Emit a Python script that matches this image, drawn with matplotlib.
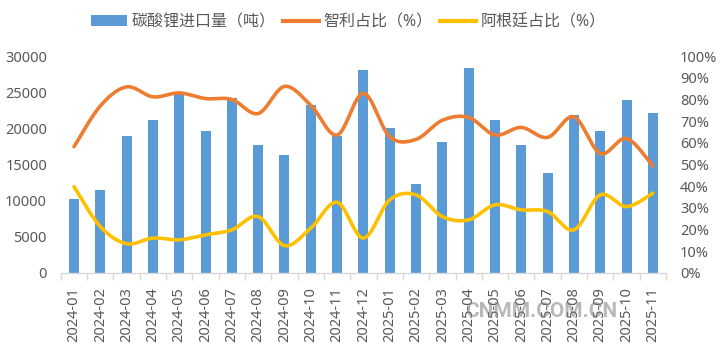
import numpy as np
import matplotlib
matplotlib.use("Agg")
import matplotlib.pyplot as plt
from matplotlib.patches import Patch
from matplotlib.lines import Line2D

plt.rcParams['font.family'] = ['Noto Sans', 'Noto Sans CJK SC', 'DejaVu Sans']

months = ["2024-01", "2024-02", "2024-03", "2024-04", "2024-05", "2024-06",
          "2024-07", "2024-08", "2024-09", "2024-10", "2024-11", "2024-12",
          "2025-01", "2025-02", "2025-03", "2025-04", "2025-05", "2025-06",
          "2025-07", "2025-08", "2025-09", "2025-10", "2025-11"]
imports_t = [10300, 11500, 19000, 21200, 24800, 19600, 24200, 17700, 16300, 23200,
             19000, 28100, 20100, 12300, 18100, 28400, 21200, 17700, 13800, 21800,
             19700, 23900, 22100]
chile_pct = [58.2, 77.0, 85.8, 81.2, 83.0, 80.4, 80.0, 73.5, 86.0, 77.3, 63.6, 82.8,
             62.8, 61.6, 70.4, 71.7, 63.6, 67.1, 62.5, 72.0, 55.1, 62.0, 49.3]
argentina_pct = [39.8, 21.4, 13.5, 16.1, 15.3, 17.6, 19.9, 26.0, 12.6, 20.7, 32.6, 16.1,
                 33.7, 36.0, 26.0, 24.5, 31.4, 29.1, 28.3, 19.9, 36.0, 30.6, 36.8]
legend_labels = ["碳酸锂进口量（吨）", "智利占比（%）", "阿根廷占比（%）"]

BLUE = "#5B9BD5"
ORANGE = "#ED7D31"
YELLOW = "#FFC000"
GRAY = "#595959"
AXIS = "#D9D9D9"


def smooth(x, y, n=30):
    """Catmull-Rom style smoothing (like Excel smoothed lines) for drawing."""
    x = np.asarray(x, float)
    y = np.asarray(y, float)
    px = np.concatenate([[x[0]], x, [x[-1]]])
    py = np.concatenate([[y[0]], y, [y[-1]]])
    xs, ys = [], []
    t = np.linspace(0, 1, n, endpoint=False)
    for i in range(1, len(px) - 2):
        p0x, p1x, p2x, p3x = px[i - 1], px[i], px[i + 1], px[i + 2]
        p0y, p1y, p2y, p3y = py[i - 1], py[i], py[i + 1], py[i + 2]
        c1x = p1x + (p2x - p0x) / 6
        c1y = p1y + (p2y - p0y) / 6
        c2x = p2x - (p3x - p1x) / 6
        c2y = p2y - (p3y - p1y) / 6
        b0 = (1 - t) ** 3
        b1 = 3 * (1 - t) ** 2 * t
        b2 = 3 * (1 - t) * t ** 2
        b3 = t ** 3
        xs.append(b0 * p1x + b1 * c1x + b2 * c2x + b3 * p2x)
        ys.append(b0 * p1y + b1 * c1y + b2 * c2y + b3 * p2y)
    xs.append([x[-1]])
    ys.append([y[-1]])
    return np.concatenate(xs), np.concatenate(ys)


fig = plt.figure(figsize=(7.2, 3.46), dpi=100)
ax = fig.add_axes([0.0845, 0.211, 0.8405, 0.627])
ax2 = ax.twinx()

xpos = np.arange(len(months))
ax.bar(xpos, imports_t, width=0.38, color=BLUE, zorder=2)

sx, sy = smooth(xpos, chile_pct)
ax2.plot(sx, sy, color=ORANGE, lw=2.6, solid_capstyle='round', zorder=3)
sx, sy = smooth(xpos, argentina_pct)
ax2.plot(sx, sy, color=YELLOW, lw=2.6, solid_capstyle='round', zorder=3)

ax.set_xlim(-0.5, len(months) - 0.5)
ax.set_ylim(0, 30000)
ax.set_yticks(np.arange(0, 30001, 5000))
ax2.set_ylim(0, 100)
ax2.set_yticks(np.arange(0, 101, 10))
ax2.set_yticklabels([f"{v}%" for v in range(0, 101, 10)])

ax.set_xticks(xpos)
ax.set_xticklabels(months, rotation=90)
ax.set_xticks(np.arange(-0.5, len(months), 1), minor=True)
ax.tick_params(axis='x', which='major', length=0, pad=10, labelsize=10.5, labelcolor=GRAY)
ax.tick_params(axis='x', which='minor', length=5, color=AXIS, width=1)
ax.tick_params(axis='y', length=0, pad=10, labelsize=10.5, labelcolor=GRAY)
ax2.tick_params(axis='y', length=0, pad=10, labelsize=10.5, labelcolor=GRAY)

for a in (ax, ax2):
    for s in ("top", "left", "right", "bottom"):
        a.spines[s].set_visible(False)
ax.spines["bottom"].set_visible(True)
ax.spines["bottom"].set_color(AXIS)
ax.spines["bottom"].set_linewidth(1)

handles = [Patch(facecolor=BLUE, edgecolor='none'),
           Line2D([], [], color=ORANGE, lw=3),
           Line2D([], [], color=YELLOW, lw=3)]
fig.legend(handles, legend_labels, loc='center', bbox_to_anchor=(0.484, 0.935),
           ncol=3, frameon=False, fontsize=11.5, labelcolor=GRAY,
           handlelength=2.2, handleheight=0.7, handletextpad=0.3, columnspacing=0.5)

fig.text(0.751, 0.101, "CNMM.COM.CN", fontsize=15, family='Roboto', color='#7f7f7f',
         alpha=0.55, ha='center', va='center', fontweight='bold')

fig.savefig("out.png", dpi=100)
